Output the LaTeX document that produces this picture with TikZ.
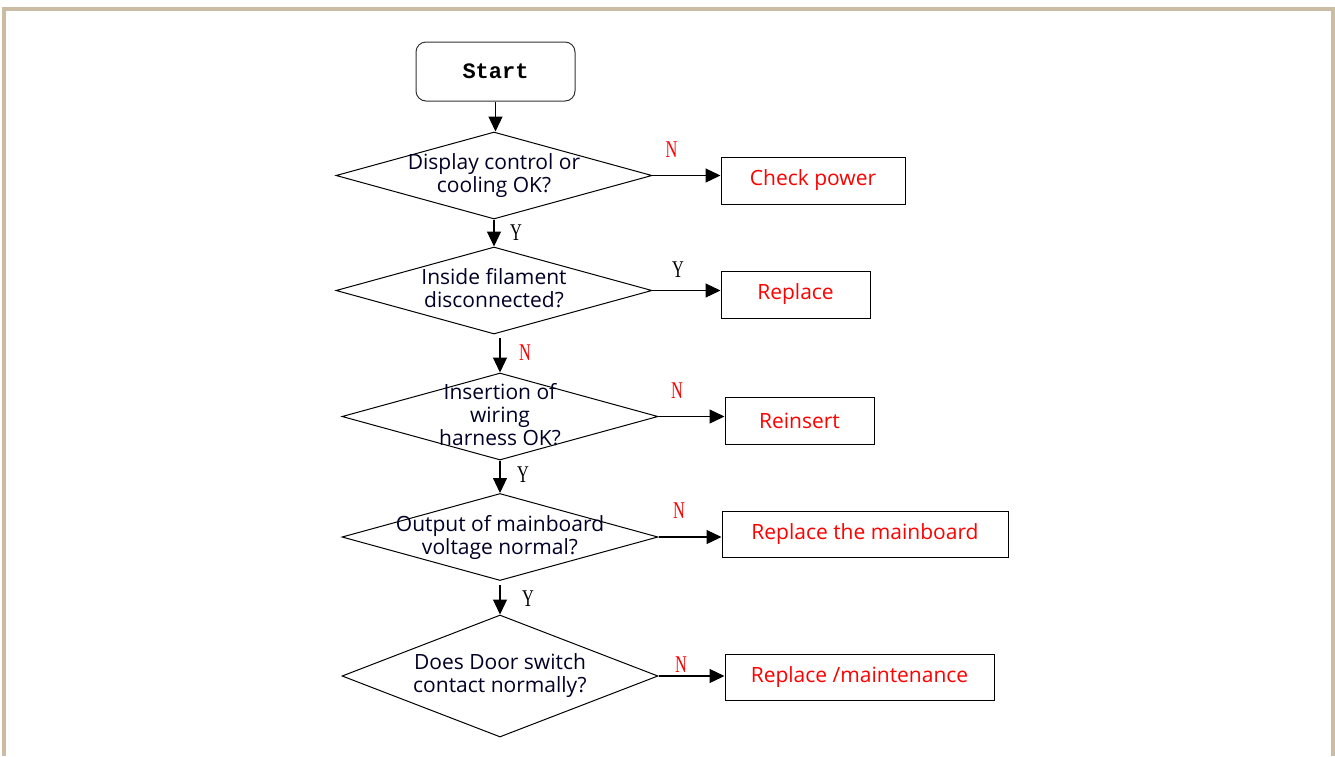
\documentclass[tikz,border=0pt]{standalone}
\usepackage{fontspec}
\setmainfont{Open Sans}
\newfontfamily\lblfont[FakeStretch=0.68]{Liberation Serif}
\newfontfamily\startfont{Liberation Mono}
\usetikzlibrary{shapes.geometric,arrows.meta}
\definecolor{frame}{RGB}{203,189,163}
\definecolor{redtxt}{RGB}{255,0,0}
\tikzset{
  dia/.style={diamond,draw=black,line width=1pt,inner sep=0pt,minimum width=316pt,minimum height=87pt},
  diatext/.style={align=center,font=\fontsize{21}{23}\selectfont,text=black!85!blue,inner sep=0pt},
  actbox/.style={rectangle,draw=black,line width=1pt,inner sep=0pt,text=redtxt,font=\fontsize{21}{22}\selectfont},
  arr/.style={line width=1.2pt,-{Triangle[length=15pt,width=14pt]}},
  ylbl/.style={font=\lblfont\fontsize{24}{24}\selectfont,text=black,inner sep=0pt},
  nlbl/.style={font=\lblfont\fontsize{24}{24}\selectfont,text=redtxt,inner sep=0pt},
  border/.style={draw=frame,line width=4pt}
}
\begin{document}
\begin{tikzpicture}[x=1pt,y=-1pt]
\useasboundingbox (0,0) rectangle (1335,756);
\fill[white] (0,0) rectangle (1335,756);
\draw[border] (4,756) -- (4,9) -- (1333,9) -- (1333,756);

% start
\node[rectangle,rounded corners=10pt,draw=black!80,line width=1pt,minimum width=159pt,minimum height=59pt,inner sep=0pt,font=\startfont\bfseries\fontsize{22}{22}\selectfont] (start) at (495.5,71.5) {Start};

% diamonds
\node[dia] (d1) at (494,175.5) {};
\node[diatext] (d1t) at (494,176) {Display control or\\cooling OK?};
\node[dia] (d2) at (494,290.5) {};
\node[diatext] (d2t) at (494,288) {Inside filament\\disconnected?};
\node[dia] (d3) at (500,416.5) {};
\node[diatext] (d3t) at (500,415) {Insertion of\\wiring\\harness OK?};
\node[dia] (d4) at (500,537) {};
\node[diatext] (d4t) at (500,537) {Output of mainboard\\voltage normal?};
\node[dia,minimum height=122pt] (d5) at (500,676) {};
\node[diatext] (d5t) at (500,676) {Does Door switch\\contact normally?};

% action boxes
\node[actbox,minimum width=184pt,minimum height=47pt] (b1) at (813,180.5) {Check power};
\node[actbox,minimum width=149pt,minimum height=47pt] (b2) at (795.5,294.5) {Replace};
\node[actbox,minimum width=149pt,minimum height=47pt] (b3) at (799.5,420.5) {Reinsert};
\node[actbox,minimum width=286pt,minimum height=46pt] (b4) at (865,534) {Replace the mainboard};
\node[actbox,minimum width=269pt,minimum height=46pt] (b5) at (859.5,677) {Replace /maintenance};

% vertical connectors
\draw[arr] (start.south) -- (start.south |- d1.north);
\draw[arr] (d1.south) -- (d2.north);
\coordinate (c23) at (500,338);
\draw[arr] (c23) -- (d3.north);
\draw[arr] (d3.south) -- (d4.north);
\coordinate (c45) at (500,585);
\draw[arr] (c45) -- (d5.north);

% horizontal connectors
\draw[arr] (d1.east) -- (d1.east -| b1.west);
\draw[arr] (d2.east) -- (d2.east -| b2.west);
\draw[arr] (d3.east) -- (d3.east -| b3.west);
\draw[arr] (d4.east) -- (d4.east -| b4.west);
\draw[arr] (d5.east) -- (d5.east -| b5.west);

% labels
\node[nlbl] (n1) at (671.5,150) {N};
\node[ylbl] (y1) at (516,233) {Y};
\node[ylbl] (y2) at (678,270) {Y};
\node[nlbl] (n2) at (525,353) {N};
\node[nlbl] (n3) at (677,391) {N};
\node[ylbl] (y3) at (523,475) {Y};
\node[nlbl] (n4) at (679,511) {N};
\node[ylbl] (y4) at (528,599) {Y};
\node[nlbl] (n5) at (681,665) {N};
\end{tikzpicture}
\end{document}
